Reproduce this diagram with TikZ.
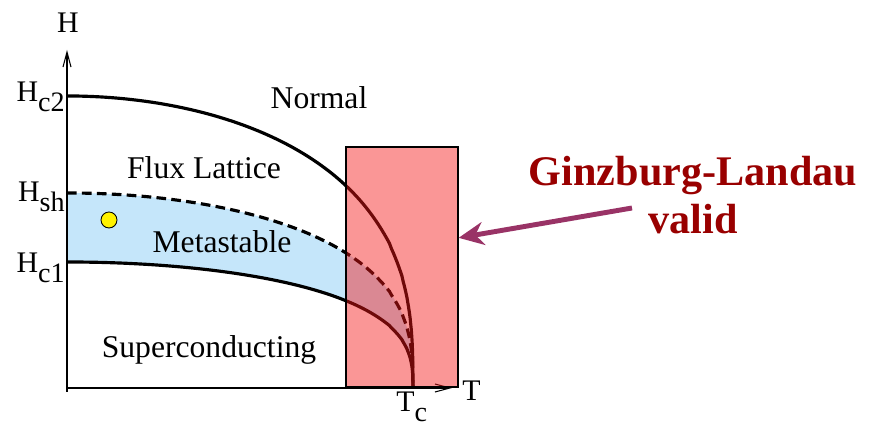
\documentclass[tikz,border=0pt]{standalone}
\usepackage{fontspec}
\setmainfont{Liberation Serif}
\usetikzlibrary{arrows.meta, positioning}
\definecolor{gldark}{RGB}{153,0,0}
\definecolor{glarrow}{RGB}{153,51,102}
\definecolor{metablue}{RGB}{197,230,250}
\definecolor{glred}{RGB}{244,22,22}
\newcommand{\lowidx}[1]{\raisebox{-5.5pt}{\fontsize{16}{16}\selectfont #1}}

\begin{document}
\begin{tikzpicture}[x=0.2mm, y=-0.2mm,
  declare function={hx(\s)=67+346*(1-\s^3); hy(\s)=(\s^3*(2-\s^3))^0.35;},
  crv/.style={line width=1.8pt, black},
  ax/.style={line width=0.6pt, -{Straight Barb[length=3mm,width=1.6mm]}},
  lbl/.style={font=\fontsize{18}{20}\selectfont},
  axl/.style={font=\fontsize{17}{19}\selectfont, inner sep=0pt},
  glbox/.style={draw=black, line width=1.2pt, fill=glred, fill opacity=0.45,
                minimum width=22.24mm, minimum height=48mm, inner sep=0pt},
  gltext/.style={font=\fontsize{24}{27}\selectfont\bfseries, text=gldark, align=center},
  ar/.style={-{Stealth[length=5mm,width=4.6mm,inset=1.6mm]}, glarrow, line width=2.8pt}]
\useasboundingbox (0,0) rectangle (875,428);
\coordinate (o) at (67,388);
\coordinate (tc) at (413,388);
\coordinate (htip) at (67,50);
\coordinate (ttip) at (452,388);
\fill[metablue] plot[domain=1:0.1, samples=80, smooth] ({hx(\x)},{388-195*hy(\x)}) -- (tc)
  -- plot[domain=0.1:1, samples=80, smooth] ({hx(\x)},{388-126*hy(\x)}) -- cycle;
\draw[crv] plot[domain=1:0.1, samples=80, smooth] ({hx(\x)},{388-292*hy(\x)}) -- (tc);
\draw[crv, dash pattern=on 5.5pt off 3pt] plot[domain=1:0.1, samples=80, smooth] ({hx(\x)},{388-195*hy(\x)}) -- (tc);
\draw[crv] plot[domain=1:0.1, samples=80, smooth] ({hx(\x)},{388-126*hy(\x)}) -- (tc);
\draw[ax] (67,392) -- (htip);
\draw[ax] (o) -- (ttip);
\node[glbox] (gl) at (402,266.7) {};
\node[draw=black, line width=0.5pt, fill=yellow, circle, minimum size=3.2mm, inner sep=0pt] (dot) at (109,220) {};
\node[axl, anchor=base] (hlab) at (68,33) {H};
\node[axl, anchor=base east] (hc2) at (65,102) {H\lowidx{c2}};
\node[axl, anchor=base east] (hsh) at (65,202) {H\lowidx{sh}};
\node[axl, anchor=base east] (hc1) at (65,273) {H\lowidx{c1}};
\node[axl, anchor=base west] (tlab) at (462,401) {T};
\node[axl, anchor=base west] (tclab) at (396,412) {T\lowidx{c}};
\node[lbl] (normal) at (319,98) {Normal};
\node[lbl] (flux) at (204,168) {Flux Lattice};
\node[lbl] (meta) at (222,242) {Metastable};
\node[lbl] (super) at (209,350) {Superconducting};
\node[gltext] (gltxt) at (693,195) {Ginzburg-Landau\\valid};
\coordinate (gltail) at (632,208);
\draw[ar] (gltail) -- (gl.27.6);
\end{tikzpicture}
\end{document}
